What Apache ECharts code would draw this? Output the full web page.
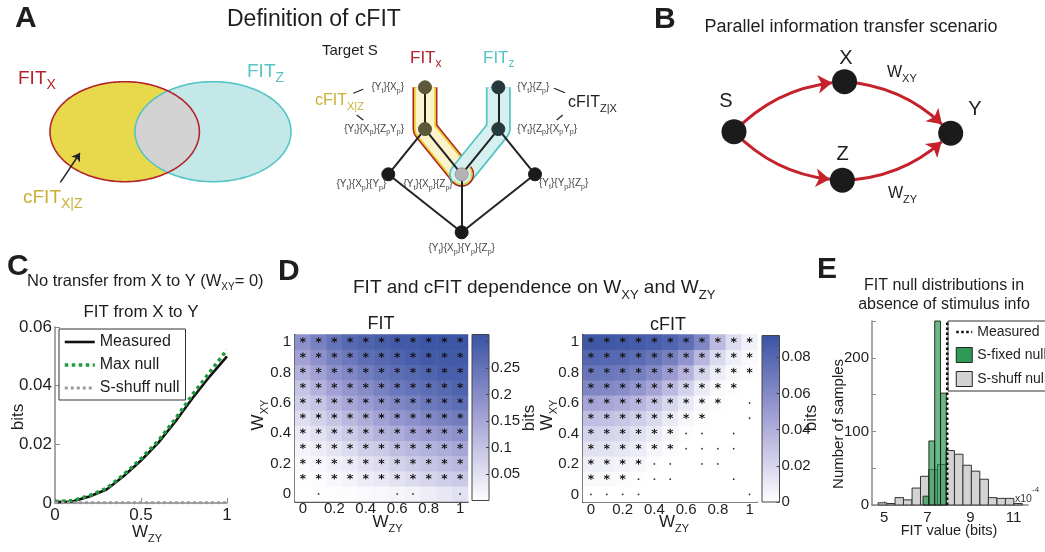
<!DOCTYPE html>
<html>
<head>
<meta charset="utf-8">
<script src="https://cdn.jsdelivr.net/npm/echarts@6.0.0/dist/echarts.min.js"></script>
<style>
html,body{margin:0;padding:0;background:#ffffff;}
#chart{width:1045px;height:552px;}
</style>
</head>
<body>
<div id="chart"></div>
<script>
// ================= DATA =================
// Panel C : FIT from X to Y vs W_ZY
const cWzy       = [0, 0.1, 0.2, 0.3, 0.4, 0.5, 0.6, 0.7, 0.8, 0.9, 1];
const cMeasured  = [0.0003, 0.0005, 0.0022, 0.0046, 0.0092, 0.0145, 0.0205, 0.0278, 0.0358, 0.0432, 0.0500];
const cMaxNull   = [0.0005, 0.0008, 0.0025, 0.0050, 0.0097, 0.0151, 0.0212, 0.0287, 0.0370, 0.0446, 0.0522];
const cShuffNull = [0.0001, 0.0001, 0.0001, 0.0001, 0.0001, 0.0001, 0.0001, 0.0001, 0.0001, 0.0001, 0.0001];
const cSeriesNames = ['Measured', 'Max null', 'S-shuff null'];

// Panel D : heatmaps, rows = W_XY (0 .. 1), columns = W_ZY (0 .. 1)
const wLabels = ['0','0.1','0.2','0.3','0.4','0.5','0.6','0.7','0.8','0.9','1'];
const fitValues = [
  [0.000,0.001,0.003,0.005,0.008,0.012,0.017,0.022,0.030,0.040,0.050],
  [0.003,0.006,0.012,0.020,0.030,0.040,0.050,0.060,0.070,0.080,0.090],
  [0.008,0.015,0.025,0.035,0.050,0.060,0.075,0.090,0.100,0.110,0.120],
  [0.020,0.030,0.045,0.060,0.080,0.090,0.110,0.120,0.130,0.140,0.150],
  [0.035,0.050,0.070,0.090,0.110,0.130,0.140,0.160,0.170,0.180,0.190],
  [0.055,0.075,0.100,0.120,0.140,0.160,0.180,0.190,0.210,0.220,0.230],
  [0.080,0.100,0.130,0.150,0.170,0.190,0.210,0.220,0.240,0.250,0.260],
  [0.100,0.130,0.160,0.180,0.200,0.220,0.240,0.250,0.260,0.270,0.280],
  [0.130,0.160,0.190,0.210,0.230,0.250,0.260,0.270,0.280,0.290,0.290],
  [0.160,0.190,0.220,0.240,0.260,0.270,0.280,0.290,0.300,0.300,0.300],
  [0.190,0.220,0.250,0.270,0.280,0.290,0.300,0.300,0.310,0.310,0.310]
];
const cfitValues = [
  [0.000,0.000,0.000,0.000,0.000,0.000,0.000,0.000,0.000,0.000,0.000],
  [0.003,0.003,0.002,0.001,0.000,0.000,0.000,0.000,0.000,0.000,0.000],
  [0.008,0.008,0.006,0.004,0.001,0.000,0.000,0.000,0.000,0.000,0.000],
  [0.015,0.014,0.012,0.009,0.005,0.002,0.000,0.000,0.000,0.000,0.000],
  [0.022,0.021,0.019,0.015,0.010,0.005,0.001,0.000,0.000,0.000,0.000],
  [0.032,0.031,0.028,0.024,0.018,0.010,0.004,0.001,0.000,0.000,0.000],
  [0.045,0.044,0.041,0.036,0.029,0.020,0.011,0.004,0.001,0.000,0.000],
  [0.062,0.061,0.058,0.053,0.045,0.034,0.022,0.010,0.003,0.001,0.000],
  [0.072,0.071,0.069,0.066,0.060,0.050,0.037,0.021,0.009,0.003,0.001],
  [0.081,0.080,0.079,0.077,0.073,0.066,0.054,0.036,0.018,0.008,0.003],
  [0.089,0.089,0.088,0.087,0.085,0.082,0.076,0.062,0.034,0.017,0.007]
];
// significance marks: '*' significant, '.' tested, ' ' none
const fitMarks = [
  ' .    ..  .',
  '***********','***********','***********','***********','***********',
  '***********','***********','***********','***********','***********'
];
const cfitMarks = [
  '....      .',
  '***...   . ',
  '****.. ..  ',
  '******.... ',
  '******.. . ',
  '********  .',
  '********* .',
  '********** ',
  '***********',
  '***********',
  '***********'
];

// Panel E : histograms (FIT value in units of 1e-4 bits)
const eShuffLeft   = [4.71,5.10,5.50,5.89,6.29,6.68,7.07,7.47,7.86,8.26,8.65,9.04,9.44,9.83,10.23,10.62,11.01];
const eShuffCounts = [3,2,10,7,23,39,48,55,74,69,54,46,35,10,9,9,2];
const eShuffWidth  = 0.394;
const eFixedLeft   = [6.80,7.07,7.34,7.61];
const eFixedCounts = [12,87,250,152];
const eFixedWidth  = 0.27;
const eMeasured    = 7.92;
const eXTicks      = [5,7,9,11];

// Diagram structure (A lattice, B network) in diagram units
const latticeX = [-1,-1, 1, 1, 0,-2, 2, 0];
const latticeY = [2.5,1.78,2.5,1.78,1,1,1,0];
const latticeLabels = [
  '{Y{s|t}}{X{s|p}}',
  '{Y{s|t}}{X{s|p}}{Z{s|p}Y{s|p}}',
  '{Y{s|t}}{Z{s|p}}',
  '{Y{s|t}}{Z{s|p}}{X{s|p}Y{s|p}}',
  '{Y{s|t}}{X{s|p}}{Z{s|p}}',
  '{Y{s|t}}{X{s|p}}{Y{s|p}}',
  '{Y{s|t}}{Y{s|p}}{Z{s|p}}',
  '{Y{s|t}}{X{s|p}}{Y{s|p}}{Z{s|p}}'
];
const latticeLinks = [[0,1],[1,4],[2,3],[3,4],[1,5],[3,6],[4,7],[5,7],[6,7]];
const netNames = ['S','X','Z','Y'];
const netX = [0, 1.02, 1.0, 2.0];
const netY = [0, 1.0, -0.97, -0.03];
const netLinks = [[0,1,0.2],[0,2,-0.2],[1,3,0.2],[2,3,-0.2]];

// ================= STYLE / HELPERS =================
const FONT = '"Liberation Sans", Arial, Helvetica, sans-serif';
const RED = '#b3232b', CYAN = '#56c4c4', GOLD = '#c9b036';
const heatColors = ['#ffffff', '#a4a2d5', '#3a53a4'];
const TXT = '#1e1e1e';
const cLineStyles = [
  { color: '#111', width: 2.6, type: 'solid' },
  { color: '#1f9a3c', width: 3.5, type: 'dotted' },
  { color: '#9a9a9a', width: 3, type: 'dotted' }
];

function txt(x, y, text, o) {
  o = o || {};
  const f = o.size || 16;
  const fs = o.sub || Math.round(f * 0.66);
  const hasSub = text.indexOf('{s|') >= 0;
  const off = o.off != null ? o.off : 0.27 * f;
  const L = hasSub ? Math.round(2 * (off + 0.2 * fs + 0.3 * f)) : Math.round(f * 1.2);
  const col = o.color || TXT;
  return {
    type: 'text', x: x, y: y + 0.06 * f, rotation: o.rot || 0, z: 100, silent: true,
    style: {
      x: 0, y: 0, text: text, fontFamily: FONT, fontSize: f, fontWeight: o.bold ? 'bold' : 'normal',
      fill: col, align: o.align || 'left', textAlign: o.align || 'left',
      verticalAlign: 'middle', textVerticalAlign: 'middle', lineHeight: L,
      rich: { s: { fontSize: fs, lineHeight: fs, verticalAlign: 'bottom', fill: col, fontFamily: FONT } }
    }
  };
}
function gline(x1, y1, x2, y2) {
  return { type: 'line', z: 100, silent: true, shape: { x1, y1, x2, y2 }, style: { stroke: '#222', lineWidth: 1.2 } };
}

// ================= GRIDS & AXES =================
const hid = (gi, min, max, extra) => Object.assign({ gridIndex: gi, type: 'value', min, max, show: false }, extra || {});
const cbarGrad = { type: 'linear', x: 0, y: 1, x2: 0, y2: 0, colorStops: [
  { offset: 0, color: heatColors[0] }, { offset: 0.5, color: heatColors[1] }, { offset: 1, color: heatColors[2] }] };
const grids = [
  { left: 50, top: 81.7, width: 241, height: 100 },          // 0 venn
  { left: 388.3, top: 87.3, width: 146.7, height: 145 },     // 1 lattice
  { left: 734, top: 81.7, width: 216.7, height: 100 },       // 2 network
  { left: 55, top: 327, width: 172, height: 176 },           // 3 C
  { left: 295, top: 334.5, width: 173, height: 167 },        // 4 FIT heat
  { left: 472, top: 334.5, width: 17, height: 166, show: true, borderColor: '#444', borderWidth: 1, backgroundColor: cbarGrad }, // 5
  { left: 583, top: 334.5, width: 174.5, height: 167.5 },    // 6 cFIT heat
  { left: 762, top: 335.5, width: 17.5, height: 166.5, show: true, borderColor: '#444', borderWidth: 1, backgroundColor: cbarGrad }, // 7
  { left: 872, top: 321, width: 156, height: 184 }           // 8 E
].map(g => Object.assign({ containLabel: false, outerBoundsMode: 'none' }, g));

const axLbl = (size, margin) => ({ fontFamily: FONT, fontSize: size, color: TXT, margin: margin });
const heatX = gi => ({
  gridIndex: gi, type: 'category', data: wLabels,
  axisLine: { show: true, lineStyle: { color: '#222', width: 1.5 } },
  axisTick: { show: true, inside: true, alignWithLabel: true, interval: 1, length: 3, lineStyle: { color: '#222' } },
  axisLabel: Object.assign(axLbl(15, 0), { interval: 1 }),
  splitLine: { show: false }
});
const heatY = gi => ({
  gridIndex: gi, type: 'category', data: wLabels,
  axisLine: { show: true, lineStyle: { color: '#222', width: 1.5 } },
  axisTick: { show: true, inside: true, alignWithLabel: true, interval: 1, length: 3, lineStyle: { color: '#222' } },
  axisLabel: Object.assign(axLbl(15, 4), { interval: 1 }),
  splitLine: { show: false }
});
const cbarY = (gi, max, interval, fmt) => ({
  gridIndex: gi, type: 'value', min: 0, max: max, interval: interval, position: 'right',
  axisLine: { show: false }, splitLine: { show: false },
  axisTick: { show: true, inside: true, length: 3, lineStyle: { color: '#444' } },
  axisLabel: Object.assign(axLbl(15, 2), { formatter: fmt, showMaxLabel: false })
});

const xAxes = [
  hid(0, 0, 241), hid(1, -2, 2), hid(2, 0, 2),
  { gridIndex: 3, type: 'value', min: 0, max: 1, interval: 0.5,
    axisLine: { show: true, lineStyle: { color: '#8a8a8a', width: 1.5 } },
    axisTick: { show: true, inside: true, length: 5, lineStyle: { color: '#8a8a8a' } },
    axisLabel: axLbl(17, 4), splitLine: { show: false } },
  heatX(4),
  { gridIndex: 5, type: 'category', data: ['c'], show: false },
  heatX(6),
  { gridIndex: 7, type: 'category', data: ['c'], show: false },
  { gridIndex: 8, type: 'value', min: 4.43, max: 11.67,
    axisLine: { show: true, lineStyle: { color: '#8a8a8a', width: 1.5 } },
    axisTick: { show: true, inside: true, length: 4, customValues: eXTicks, lineStyle: { color: '#8a8a8a' } },
    axisLabel: Object.assign(axLbl(15, 5), { customValues: eXTicks }), splitLine: { show: false } }
];
const yAxes = [
  hid(0, 0, 100, { inverse: true }), hid(1, 0, 2.5), hid(2, -1, 1),
  { gridIndex: 3, type: 'value', min: 0, max: 0.06, interval: 0.02,
    axisLine: { show: true, lineStyle: { color: '#8a8a8a', width: 1.5 } },
    axisTick: { show: true, inside: true, length: 5, lineStyle: { color: '#8a8a8a' } },
    axisLabel: axLbl(17, 3), splitLine: { show: false } },
  heatY(4),
  cbarY(5, 0.313, 0.05, v => (v > 0.001 && v < 0.29) ? String(+v.toFixed(2)) : ''),
  heatY(6),
  cbarY(7, 0.092, 0.02, v => (Math.abs(v / 0.02 - Math.round(v / 0.02)) < 0.01 && v < 0.085) ? String(+v.toFixed(2)) : ''),
  { gridIndex: 8, type: 'value', min: 0, max: 250, interval: 50,
    axisLine: { show: true, lineStyle: { color: '#8a8a8a', width: 1.5 } },
    axisTick: { show: true, inside: true, length: 4, lineStyle: { color: '#8a8a8a' } },
    axisLabel: Object.assign(axLbl(15, 3), { formatter: v => (v % 100 === 0 ? String(v) : '') }),
    splitLine: { show: false } }
];

// ================= SERIES =================
const series = [];
const E1 = [74.7, 50, 74.7, 50], E2 = [163, 50, 78, 50];   // venn ellipses (venn units)
function ellPts(e, t0, n) { const p = []; for (let i = 0; i < n; i++) { const t = t0 + 2 * Math.PI * i / n; p.push([e[0] + e[2] * Math.cos(t), e[1] + e[3] * Math.sin(t)]); } return p; }
function inside(p, e) { const dx = (p[0] - e[0]) / e[2], dy = (p[1] - e[1]) / e[3]; return dx * dx + dy * dy <= 1; }
series.push({
  type: 'custom', xAxisIndex: 0, yAxisIndex: 0, data: [[0, 0]], silent: true, z: 2,
  renderItem: function (params, api) {
    const c = pts => pts.map(p => api.coord(p));
    const a = ellPts(E1, -Math.PI, 240), b = ellPts(E2, 0, 240);
    const inter = a.filter(p => inside(p, E2)).concat(b.filter(p => inside(p, E1)));
    return { type: 'group', children: [
      { type: 'polygon', shape: { points: c(a) }, style: { fill: '#e8d84c', stroke: null } },
      { type: 'polygon', shape: { points: c(b) }, style: { fill: '#c4e8e8', stroke: null } },
      { type: 'polygon', shape: { points: c(inter) }, style: { fill: '#d3d3d3', stroke: null } },
      { type: 'polygon', shape: { points: c(b) }, style: { fill: null, stroke: CYAN, lineWidth: 1.6 } },
      { type: 'polygon', shape: { points: c(a) }, style: { fill: null, stroke: RED, lineWidth: 1.6 } }
    ] };
  }
});
series.push({
  type: 'lines', coordinateSystem: 'cartesian2d', xAxisIndex: 0, yAxisIndex: 0, silent: true, z: 3,
  symbol: ['none', 'arrow'], symbolSize: 8,
  lineStyle: { color: '#222', width: 1.4, opacity: 1 },
  data: [{ coords: [[10, 101.3], [30, 71.3]] }]
});
// lattice capsules
const capL = [[latticeX[0], latticeY[0]], [latticeX[1], latticeY[1]], [latticeX[4], latticeY[4]]];
const capR = [[latticeX[2], latticeY[2]], [latticeX[3], latticeY[3]], [latticeX[4], latticeY[4]]];
const capStyle = (w, col) => ({ width: w, color: col, cap: 'round', join: 'round', opacity: 1, curveness: 0 });
series.push({
  type: 'lines', coordinateSystem: 'cartesian2d', xAxisIndex: 1, yAxisIndex: 1, polyline: true, silent: true, z: 2,
  data: [
    { coords: capL, lineStyle: capStyle(25, RED) },
    { coords: capL, lineStyle: capStyle(22, '#e6cf2a') },
    { coords: capL, lineStyle: capStyle(18.5, '#faf3cb') },
    { coords: capR, lineStyle: capStyle(25, CYAN) },
    { coords: capR, lineStyle: capStyle(21.5, '#d6f0f0') }
  ]
});
series.push({
  type: 'custom', xAxisIndex: 1, yAxisIndex: 1, data: [[latticeX[4], latticeY[4]]], silent: true, z: 3,
  renderItem: function (params, api) {
    const p = api.coord([api.value(0), api.value(1)]);
    return { type: 'group', children: [
      { type: 'arc', shape: { cx: p[0], cy: p[1], r: 11.7, startAngle: -0.7, endAngle: 2.45, clockwise: true }, style: { stroke: RED, lineWidth: 1.6, fill: null } },
      { type: 'arc', shape: { cx: p[0], cy: p[1], r: 10.2, startAngle: -0.7, endAngle: 2.45, clockwise: true }, style: { stroke: '#e6cf2a', lineWidth: 1.4, fill: null } }
    ] };
  }
});
const nodeCols = ['#5d5838', '#5d5838', '#26393c', '#26393c', '#b3b3b3', '#1b1b1b', '#1b1b1b', '#1b1b1b'];
const nodeLbl = [
  { position: 'left', distance: 14 }, { position: 'left', distance: 14 },
  { position: 'right', distance: 12 }, { position: 'right', distance: 12 },
  { position: 'left', distance: 2, offset: [0, 10] }, { position: 'left', distance: -5, offset: [0, 10] },
  { position: 'right', distance: -3, offset: [0, 9] }, { position: 'bottom', distance: 2 }
];
series.push({
  type: 'graph', coordinateSystem: 'cartesian2d', xAxisIndex: 1, yAxisIndex: 1, layout: 'none', silent: true, z: 4,
  symbolSize: 13, roam: false, emphasis: { disabled: true },
  lineStyle: { color: '#222', width: 2, opacity: 1, curveness: 0 },
  label: { show: true, fontFamily: FONT, fontSize: 10, color: '#444', lineHeight: 14,
    rich: { s: { fontSize: 7, lineHeight: 7, verticalAlign: 'bottom', color: '#444', fontFamily: FONT } } },
  data: latticeX.map((x, i) => ({
    name: 'n' + i, value: [x, latticeY[i]],
    itemStyle: { color: nodeCols[i], borderColor: i === 4 ? '#9a9a9a' : nodeCols[i], borderWidth: 1 },
    label: Object.assign({ formatter: () => latticeLabels[i] }, nodeLbl[i])
  })),
  links: latticeLinks.map(l => ({ source: l[0], target: l[1] }))
});
series.push({
  type: 'graph', coordinateSystem: 'cartesian2d', xAxisIndex: 2, yAxisIndex: 2, layout: 'none', silent: true, z: 4,
  symbolSize: 25, roam: false, emphasis: { disabled: true },
  itemStyle: { color: '#1b1b1b' },
  edgeSymbol: ['none', 'arrow'], edgeSymbolSize: [0, 14],
  lineStyle: { color: '#c4212a', width: 3, opacity: 1 },
  label: { show: false },
  data: netNames.map((n, i) => ({ name: n, value: [netX[i], netY[i]] })),
  links: netLinks.map(l => ({ source: l[0], target: l[1], lineStyle: { curveness: l[2] } }))
});
// Panel C lines
const cSeriesData = [cMeasured, cMaxNull, cShuffNull];
cSeriesNames.forEach((nm, k) => {
  series.push({ name: nm, type: 'line', xAxisIndex: 3, yAxisIndex: 3, symbol: 'none', showSymbol: false, z: 3 + (k > 0 ? 1 : 0),
    data: cWzy.map((x, i) => [x, cSeriesData[k][i]]), lineStyle: cLineStyles[k], itemStyle: { color: cLineStyles[k].color } });
});
// Panel D heatmaps
function heatData(vals) { const d = []; vals.forEach((row, r) => row.forEach((v, c) => d.push([c, r, v]))); return d; }
function markData(marks, ch) { const d = []; marks.forEach((row, r) => row.split('').forEach((m, c) => { if (m === ch) d.push([c, r]); })); return d; }
const STAR = 'path://M5 0 L5 10 M0.67 2.5 L9.33 7.5 M0.67 7.5 L9.33 2.5';
const heatIdx = [];
[[4, fitValues, fitMarks], [6, cfitValues, cfitMarks]].forEach(([ai, vals, marks]) => {
  heatIdx.push(series.length);
  series.push({ type: 'heatmap', xAxisIndex: ai, yAxisIndex: ai, data: heatData(vals), silent: true, z: 2,
    emphasis: { disabled: true }, progressive: 0, itemStyle: { borderWidth: 0 } });
  series.push({ type: 'scatter', xAxisIndex: ai, yAxisIndex: ai, data: markData(marks, '*'), silent: true, z: 5,
    symbol: STAR, symbolSize: 5.5, symbolOffset: [0, -2],
    itemStyle: { color: 'rgba(0,0,0,0)', borderColor: '#111', borderWidth: 1, opacity: 1 } });
  series.push({ type: 'scatter', xAxisIndex: ai, yAxisIndex: ai, data: markData(marks, '.'), silent: true, z: 5,
    symbol: 'circle', symbolSize: 1.8, itemStyle: { color: '#333', opacity: 1 } });
});
// Panel E histograms
function histRender(width, fill, stroke) {
  return function (params, api) {
    const left = api.value(0), cnt = api.value(1);
    const p0 = api.coord([left, cnt]), p1 = api.coord([left + width, 0]);
    return { type: 'rect', shape: { x: p0[0], y: p0[1], width: p1[0] - p0[0], height: p1[1] - p0[1] },
      style: { fill: fill, stroke: stroke, lineWidth: 1 } };
  };
}
series.push({ name: 'E:S-shuff null', type: 'custom', xAxisIndex: 8, yAxisIndex: 8, silent: true, z: 2,
  encode: { x: 0, y: 1 }, itemStyle: { color: '#d3d3d3' },
  data: eShuffLeft.map((l, i) => [l, eShuffCounts[i]]), renderItem: histRender(eShuffWidth, '#d3d3d3', '#333') });
series.push({ name: 'E:S-fixed null', type: 'custom', xAxisIndex: 8, yAxisIndex: 8, silent: true, z: 3,
  encode: { x: 0, y: 1 }, itemStyle: { color: '#2f9a55' },
  data: eFixedLeft.map((l, i) => [l, eFixedCounts[i]]), renderItem: histRender(eFixedWidth, 'rgba(30,145,70,0.66)', 'rgba(20,20,20,0.85)') });
series.push({ name: 'E:Measured', type: 'line', xAxisIndex: 8, yAxisIndex: 8, symbol: 'none', showSymbol: false, silent: true, z: 4,
  data: [[eMeasured, 0], [eMeasured, 250]], lineStyle: { color: '#111', width: 2.5, type: 'dotted' }, itemStyle: { color: '#111' } });

// ================= TEXT (graphic) =================
const P2 = Math.PI / 2;
const graphics = [
  // Panel A
  txt(15, 17, 'A', { size: 30, bold: true }),
  txt(227, 18, 'Definition of cFIT', { size: 23 }),
  txt(18, 78, 'FIT{s|X}', { size: 19, sub: 14, color: RED }),
  txt(247, 71, 'FIT{s|Z}', { size: 19, sub: 14, color: CYAN }),
  txt(23, 197, 'cFIT{s|X|Z}', { size: 19, sub: 14, color: GOLD }),
  txt(322, 50, 'Target S', { size: 15 }),
  txt(410, 57, 'FIT{s|x}', { size: 17, sub: 12, color: RED }),
  txt(483, 57, 'FIT{s|z}', { size: 17, sub: 12, color: CYAN }),
  txt(315, 100, 'cFIT{s|X|Z}', { size: 16, sub: 11, color: GOLD }),
  txt(568, 102, 'cFIT{s|Z|X}', { size: 16, sub: 11 }),
  gline(353.3, 93.3, 363.3, 89.3), gline(356.7, 115, 363.3, 120),
  gline(554, 88.3, 565, 92.7), gline(556.7, 120, 562.7, 115),
  // Panel B
  txt(654, 18, 'B', { size: 30, bold: true }),
  txt(851, 26, 'Parallel information transfer scenario', { size: 18, align: 'center' }),
  txt(726, 100, 'S', { size: 20, align: 'center' }),
  txt(846, 57, 'X', { size: 20, align: 'center' }),
  txt(842.5, 153, 'Z', { size: 20, align: 'center' }),
  txt(975, 108, 'Y', { size: 20, align: 'center' }),
  txt(887, 72, 'W{s|XY}', { size: 16, sub: 11 }),
  txt(888, 193, 'W{s|ZY}', { size: 16, sub: 11 }),
  // Panel C
  txt(7, 265, 'C', { size: 30, bold: true }),
  txt(27, 280, 'No transfer from X to Y (W{s|XY}= 0)', { size: 16.5, sub: 10 }),
  txt(141, 311, 'FIT from X to Y', { size: 17, align: 'center' }),
  txt(18, 416, 'bits', { size: 17, rot: P2, align: 'center' }),
  txt(147, 531, 'W{s|ZY}', { size: 17, sub: 11, align: 'center' }),
  // Panel D
  txt(278, 270, 'D', { size: 30, bold: true }),
  txt(353, 287, 'FIT and cFIT dependence on W{s|XY} and W{s|ZY}', { size: 19, sub: 13 }),
  txt(381, 323, 'FIT', { size: 18, align: 'center' }),
  txt(668, 323.5, 'cFIT', { size: 18, align: 'center' }),
  txt(258, 414, 'W{s|XY}', { size: 17, sub: 11, rot: P2, align: 'center' }),
  txt(547, 414, 'W{s|XY}', { size: 17, sub: 11, rot: P2, align: 'center' }),
  txt(387.5, 521, 'W{s|ZY}', { size: 17, sub: 11, align: 'center' }),
  txt(674, 521, 'W{s|ZY}', { size: 17, sub: 11, align: 'center' }),
  txt(529, 417, 'bits', { size: 17, rot: P2, align: 'center' }),
  txt(811, 417, 'bits', { size: 17, rot: P2, align: 'center' }),
  // Panel E
  txt(817, 268, 'E', { size: 30, bold: true }),
  txt(944, 285, 'FIT null distributions in', { size: 16, align: 'center' }),
  txt(944, 303.5, 'absence of stimulus info', { size: 16, align: 'center' }),
  txt(838.5, 423, 'Number of samples', { size: 15, rot: P2, align: 'center' }),
  txt(949, 530, 'FIT value (bits)', { size: 14.5, align: 'center' }),
  txt(1015, 498, 'x10', { size: 10.5, color: '#333' }),
  txt(1032, 489, '-4', { size: 8, color: '#333' })
];

// ================= OPTION =================
const option = {
  backgroundColor: '#ffffff',
  animation: false,
  textStyle: { fontFamily: FONT },
  grid: grids,
  xAxis: xAxes,
  yAxis: yAxes,
  visualMap: [
    { type: 'continuous', show: false, seriesIndex: heatIdx[0], min: 0, max: 0.313, inRange: { color: heatColors } },
    { type: 'continuous', show: false, seriesIndex: heatIdx[1], min: 0, max: 0.092, inRange: { color: heatColors } }
  ],
  legend: [
    { data: cSeriesNames.map((n, k) => ({ name: n, itemStyle: { opacity: 0 }, lineStyle: Object.assign({ opacity: 1 }, cLineStyles[k]) })),
      left: 59, top: 329, orient: 'vertical', itemWidth: 30, itemHeight: 14, itemGap: 7,
      padding: [5, 6, 4, 4], borderColor: '#333', borderWidth: 1, backgroundColor: '#fff', selectedMode: false,
      textStyle: { fontFamily: FONT, fontSize: 16, color: TXT } },
    { data: [
        { name: 'E:Measured', itemStyle: { opacity: 0 }, lineStyle: { color: '#111', width: 2.5, type: 'dotted', opacity: 1 } },
        { name: 'E:S-fixed null', icon: 'rect', itemStyle: { color: '#2f9a55', borderColor: '#222', borderWidth: 1, opacity: 1 } },
        { name: 'E:S-shuff null', icon: 'rect', itemStyle: { color: '#d3d3d3', borderColor: '#222', borderWidth: 1, opacity: 1 } }
      ],
      formatter: n => n.replace('E:', ''),
      left: 948, top: 321, orient: 'vertical', itemWidth: 16, itemHeight: 15, itemGap: 8,
      padding: [4, 30, 4, 7], borderColor: '#333', borderWidth: 1, backgroundColor: '#fff', selectedMode: false,
      textStyle: { fontFamily: FONT, fontSize: 14, color: TXT } }
  ],
  series: series,
  graphic: graphics
};

const chart = echarts.init(document.getElementById('chart'), null, { renderer: 'canvas', width: 1045, height: 552 });
chart.setOption(option);
</script>
</body>
</html>
